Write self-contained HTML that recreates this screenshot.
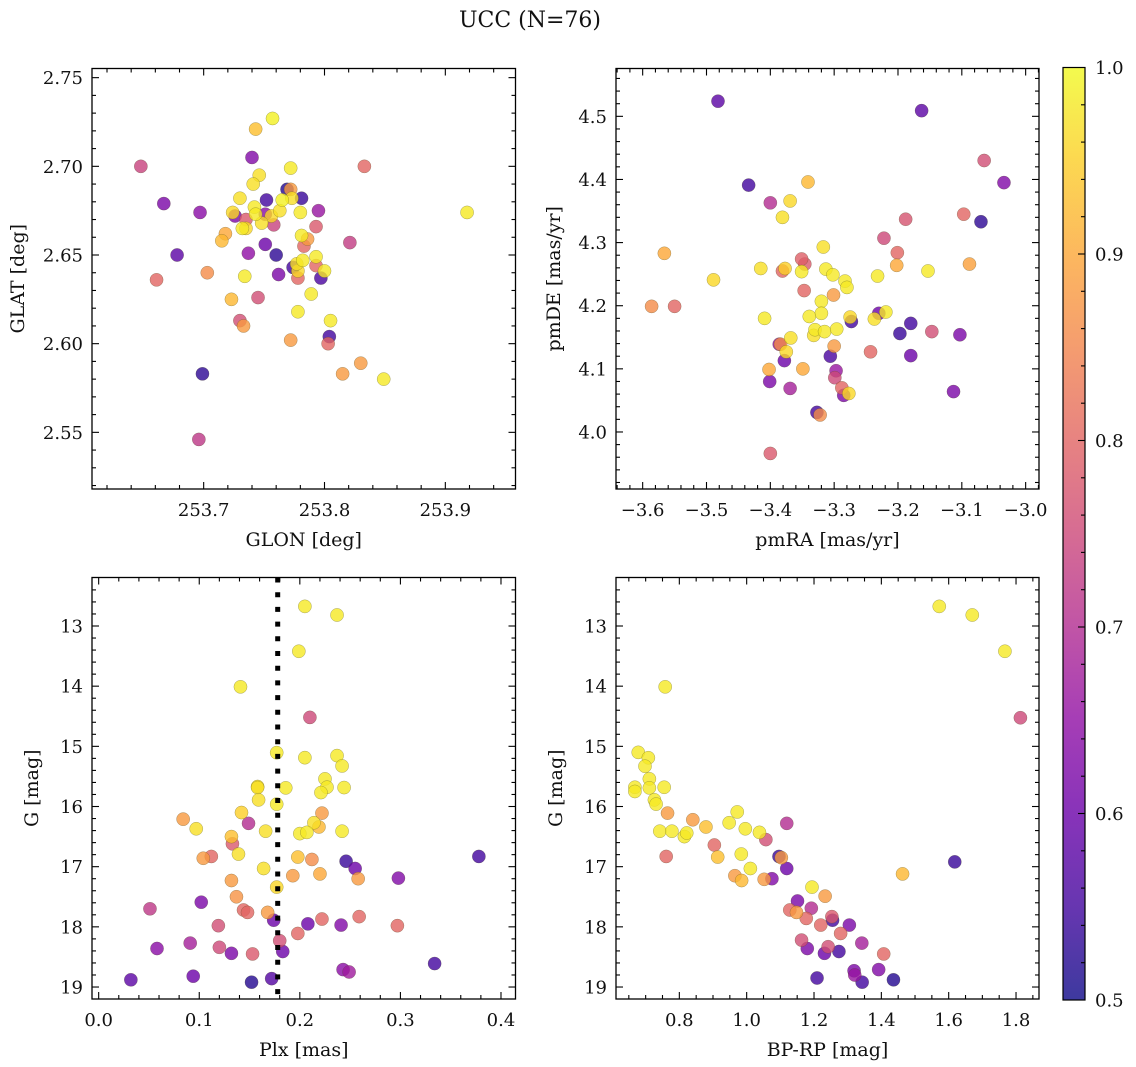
<!DOCTYPE html>
<html>
<head>
<meta charset="utf-8">
<style>
  html,body{margin:0;padding:0;background:#fff;}
  svg{display:block;}
  text{font-family:"DejaVu Serif","Liberation Serif",serif;fill:#111;}
</style>
</head>
<body>
<svg id="fig" width="1136" height="1067" viewBox="0 0 1136 1067" xmlns="http://www.w3.org/2000/svg">
  <defs>
    <linearGradient id="cbgrad" x1="0" y1="1" x2="0" y2="0">
      <stop offset="0" stop-color="#0d0887"/>
      <stop offset="0.1" stop-color="#41049d"/>
      <stop offset="0.2" stop-color="#6a00a8"/>
      <stop offset="0.3" stop-color="#8f0da4"/>
      <stop offset="0.4" stop-color="#b12a90"/>
      <stop offset="0.5" stop-color="#cc4778"/>
      <stop offset="0.6" stop-color="#e16462"/>
      <stop offset="0.7" stop-color="#f2844b"/>
      <stop offset="0.8" stop-color="#fca636"/>
      <stop offset="0.9" stop-color="#fcce25"/>
      <stop offset="1" stop-color="#f0f921"/>
    </linearGradient>
  </defs>
  <text x="530" y="27" text-anchor="middle" font-size="22">UCC (N=76)</text>
</svg>
<script>
// ---------- data ----------
const tlGlon = [253.648,253.667,253.697,253.678,253.661,253.703,253.743,253.757,253.740,253.772,
253.833,253.746,253.741,253.769,253.772,253.730,253.752,253.781,253.765,253.773,
253.742,253.724,253.726,253.735,253.743,253.756,253.763,253.751,253.758,253.748,
253.780,253.795,253.732,253.735,253.793,253.718,253.715,253.751,253.821,253.781,
253.786,253.783,253.737,253.760,253.793,253.782,253.793,253.774,253.777,253.778,
253.762,253.778,253.797,253.800,253.734,253.723,253.745,253.789,253.778,253.730,
253.733,253.805,253.772,253.804,253.803,253.699,253.815,253.830,253.849,253.918,
253.696];
const tlGlat = [2.700,2.679,2.674,2.650,2.636,2.640,2.721,2.727,2.705,2.699,
2.700,2.695,2.690,2.687,2.687,2.682,2.681,2.682,2.681,2.682,
2.677,2.674,2.672,2.670,2.673,2.672,2.675,2.673,2.667,2.668,
2.674,2.675,2.665,2.665,2.666,2.662,2.658,2.656,2.657,2.661,
2.659,2.655,2.651,2.650,2.649,2.647,2.644,2.643,2.645,2.641,
2.639,2.637,2.637,2.641,2.638,2.625,2.626,2.628,2.618,2.613,
2.610,2.613,2.602,2.604,2.600,2.583,2.583,2.589,2.580,2.674,
2.546];
const tlProb = [0.74,0.62,0.64,0.58,0.8,0.86,0.93,0.99,0.63,0.98,
0.8,0.97,0.97,0.52,0.88,0.97,0.55,0.54,0.99,0.97,
0.98,0.96,0.62,0.78,0.98,0.96,0.97,0.64,0.74,0.97,
0.98,0.66,0.98,0.96,0.78,0.9,0.92,0.6,0.73,0.98,
0.88,0.8,0.65,0.53,0.98,0.98,0.8,0.55,0.97,0.96,
0.62,0.8,0.56,0.98,0.98,0.92,0.76,0.98,0.98,0.76,
0.88,0.98,0.88,0.55,0.8,0.53,0.88,0.88,0.98,0.98,
0.72];

const trPmra = [-3.482,-3.163,-3.065,-3.034,-3.434,-3.341,-3.400,-3.369,-3.381,-3.188,
-3.097,-3.070,-3.222,-3.317,-3.566,-3.201,-3.351,-3.346,-3.202,-3.088,
-3.489,-3.415,-3.381,-3.377,-3.351,-3.313,-3.302,-3.283,-3.280,-3.232,
-3.153,-3.347,-3.301,-3.586,-3.550,-3.320,-3.320,-3.339,-3.409,-3.273,
-3.275,-3.230,-3.237,-3.219,-3.180,-3.197,-3.147,-3.103,-3.330,-3.315,
-3.296,-3.332,-3.368,-3.384,-3.386,-3.375,-3.300,-3.243,-3.378,-3.306,
-3.180,-3.402,-3.349,-3.401,-3.297,-3.299,-3.369,-3.288,-3.285,-3.277,
-3.113,-3.327,-3.322,-3.400];
const trPmde = [4.524,4.509,4.430,4.395,4.391,4.396,4.363,4.366,4.340,4.337,
4.345,4.333,4.307,4.293,4.283,4.284,4.274,4.266,4.264,4.266,
4.241,4.259,4.255,4.259,4.254,4.258,4.249,4.239,4.229,4.247,
4.255,4.224,4.217,4.199,4.199,4.207,4.188,4.183,4.180,4.175,
4.182,4.188,4.179,4.190,4.172,4.156,4.159,4.154,4.162,4.159,
4.163,4.153,4.149,4.139,4.139,4.127,4.136,4.127,4.113,4.120,
4.121,4.099,4.100,4.080,4.097,4.086,4.069,4.070,4.058,4.061,
4.064,4.031,4.027,3.966];
const trProb = [0.58,0.58,0.76,0.63,0.55,0.92,0.7,0.96,0.97,0.77,
0.8,0.53,0.75,0.97,0.9,0.8,0.79,0.78,0.9,0.89,
0.96,0.97,0.8,0.95,0.98,0.98,0.98,0.98,0.98,0.98,
0.98,0.8,0.88,0.86,0.8,0.98,0.98,0.98,0.98,0.55,
0.96,0.6,0.97,0.98,0.55,0.54,0.76,0.62,0.98,0.98,
0.98,0.97,0.97,0.86,0.65,0.96,0.88,0.8,0.6,0.56,
0.6,0.9,0.9,0.62,0.66,0.75,0.68,0.8,0.62,0.96,
0.62,0.55,0.86,0.78];

const blPlx = [0.205,0.237,0.199,0.141,0.210,0.177,0.205,0.237,0.242,0.225,
0.227,0.221,0.244,0.158,0.158,0.186,0.159,0.177,0.142,0.222,
0.149,0.084,0.097,0.166,0.214,0.219,0.200,0.207,0.242,0.132,
0.133,0.139,0.104,0.112,0.198,0.212,0.164,0.193,0.220,0.246,
0.255,0.258,0.298,0.378,0.132,0.177,0.137,0.102,0.051,0.144,
0.148,0.168,0.174,0.208,0.222,0.241,0.259,0.297,0.119,0.198,
0.180,0.183,0.058,0.091,0.120,0.132,0.153,0.334,0.243,0.249,
0.032,0.094,0.152,0.172];
const blG = [12.674,12.817,13.420,14.011,14.519,15.105,15.188,15.154,15.326,15.541,
15.679,15.768,15.685,15.668,15.685,15.690,15.89,15.961,16.10,16.11,
16.28,16.21,16.37,16.41,16.27,16.34,16.45,16.43,16.41,16.50,
16.62,16.79,16.86,16.83,16.84,16.88,17.03,17.15,17.12,16.91,
17.03,17.20,17.19,16.83,17.23,17.34,17.50,17.59,17.70,17.72,
17.76,17.76,17.89,17.95,17.87,17.97,17.83,17.98,17.98,18.11,
18.23,18.41,18.36,18.27,18.34,18.44,18.45,18.61,18.71,18.75,
18.88,18.82,18.92,18.86];
const blProb = [0.98,0.98,0.98,0.98,0.75,0.98,0.98,0.98,0.98,0.98,
0.98,0.98,0.98,0.97,0.97,0.98,0.97,0.98,0.95,0.88,
0.7,0.88,0.97,0.97,0.97,0.92,0.98,0.98,0.98,0.93,
0.78,0.97,0.88,0.8,0.93,0.86,0.97,0.88,0.9,0.54,
0.6,0.88,0.63,0.55,0.88,0.96,0.87,0.62,0.72,0.8,
0.8,0.88,0.6,0.6,0.8,0.63,0.8,0.8,0.76,0.8,
0.76,0.6,0.64,0.68,0.75,0.62,0.78,0.55,0.64,0.67,
0.58,0.6,0.52,0.57];
const plxMedian = [0.178];

const brBprp = [1.572,1.670,1.767,0.758,1.813,0.678,0.708,0.698,0.711,0.668,
0.668,0.711,0.755,0.726,0.731,0.765,0.840,0.742,0.778,0.815,
0.822,0.879,0.948,0.972,0.996,1.038,1.057,1.119,0.761,0.904,
0.914,0.984,1.011,1.096,1.103,1.119,0.965,0.985,1.052,1.075,
1.194,1.233,1.463,1.618,1.151,1.128,1.148,1.192,1.177,1.255,
1.253,1.220,1.305,1.279,1.163,1.180,1.231,1.242,1.274,1.342,
1.407,1.209,1.319,1.321,1.343,1.392,1.436];
const brG = [12.674,12.817,13.420,14.011,14.525,15.10,15.19,15.33,15.54,15.68,
15.75,15.69,15.68,15.89,15.96,16.11,16.22,16.41,16.41,16.50,
16.44,16.34,16.27,16.09,16.37,16.43,16.55,16.28,16.83,16.64,
16.84,16.79,17.03,16.83,16.85,17.03,17.15,17.23,17.21,17.20,
17.34,17.49,17.12,16.92,17.57,17.72,17.76,17.69,17.86,17.89,
17.83,17.97,17.97,18.11,18.22,18.36,18.44,18.33,18.41,18.27,
18.45,18.85,18.73,18.80,18.92,18.71,18.88];
const brProb = [0.98,0.98,0.98,0.98,0.75,0.98,0.98,0.98,0.98,0.98,
0.98,0.98,0.98,0.98,0.98,0.88,0.88,0.98,0.98,0.98,
0.98,0.93,0.98,0.98,0.98,0.98,0.76,0.7,0.8,0.8,
0.93,0.98,0.98,0.54,0.88,0.6,0.88,0.92,0.88,0.63,
0.98,0.88,0.92,0.54,0.62,0.8,0.88,0.7,0.8,0.55,
0.78,0.8,0.62,0.8,0.76,0.62,0.6,0.76,0.55,0.68,
0.8,0.55,0.62,0.66,0.55,0.63,0.52];

const cbTickValues = [0.5,0.6,0.7,0.8,0.9,1.0];

// ---------- helpers ----------
const NS = 'http://www.w3.org/2000/svg';
const svg = document.getElementById('fig');
function mk(tag, attrs, parent){
  const e = document.createElementNS(NS, tag);
  for (const k in attrs) e.setAttribute(k, attrs[k]);
  (parent || svg).appendChild(e);
  return e;
}
function lin(v0,p0,v1,p1){ const k=(p1-p0)/(v1-v0); return v => p0 + (v - v0)*k; }
function inv(v0,p0,v1,p1){ const k=(v1-v0)/(p1-p0); return p => v0 + (p - p0)*k; }

const PL = [[0,13,8,135],[0.1,65,4,157],[0.2,106,0,168],[0.3,143,13,164],[0.4,177,42,144],
  [0.5,204,71,120],[0.6,225,100,98],[0.7,242,132,75],[0.8,252,166,54],[0.9,252,206,37],[1,240,249,33]];
function plasma(t){
  t = Math.max(0, Math.min(1, t));
  for (let i=0;i<PL.length-1;i++){
    const a=PL[i], b=PL[i+1];
    if (t<=b[0]){
      const f=(t-a[0])/(b[0]-a[0]);
      return 'rgb('+[1,2,3].map(j=>Math.round(a[j]+(b[j]-a[j])*f)).join(',')+')';
    }
  }
  return 'rgb(240,249,33)';
}
function probColor(p){ return plasma((p-0.5)/0.5); }

function fmt(v, d){ return v.toFixed(d).replace('-', '\u2212'); }

function drawPanel(cfg){
  const g = mk('g', {});
  
  
  const [x0,y0,x1,y1] = cfg.box;
  const clipId = cfg.name + '-clip';
  const cp = mk('clipPath', {id: clipId}, g);
  mk('rect', {x:x0, y:y0, width:x1-x0, height:y1-y0}, cp);

  const pg = mk('g', {'clip-path':'url(#'+clipId+')'}, g);
  
  
  const n = Math.min(cfg.xs.length, cfg.ys.length, cfg.ps.length);
  const order = [];
  for (let i=0;i<n;i++) order.push(i);
  order.sort((a,b)=>cfg.ps[a]-cfg.ps[b]);
  for (const i of order){
    const c = mk('circle', {cx: cfg.sx(cfg.xs[i]).toFixed(2), cy: cfg.sy(cfg.ys[i]).toFixed(2), r: 6.6,
      fill: probColor(cfg.ps[i]), 'fill-opacity': 0.8, stroke: 'rgba(70,70,30,0.45)', 'stroke-width': 0.5}, pg);
    
    
  }
  if (cfg.extra) cfg.extra(pg);

  const fr = mk('rect', {x:x0, y:y0, width:x1-x0, height:y1-y0, fill:'none', stroke:'#000', 'stroke-width':1.3}, g);
  
  

  const tg = mk('g', {stroke:'#000', 'stroke-width':1.1}, g);
  const xi = inv(cfg.xr[0], cfg.sx(cfg.xr[0]), cfg.xr[1], cfg.sx(cfg.xr[1]));
  const yi = inv(cfg.yr[0], cfg.sy(cfg.yr[0]), cfg.yr[1], cfg.sy(cfg.yr[1]));
  {
    const va = xi(x0), vb = xi(x1);
    const lo = Math.min(va,vb), hi = Math.max(va,vb);
    const st = cfg.xMinor, ratio = Math.round(cfg.xMajor/cfg.xMinor);
    for (let k=Math.ceil(lo/st-1e-6); k<=Math.floor(hi/st+1e-6); k++){
      const v = k*st, px = cfg.sx(v);
      if (px < x0+0.5 || px > x1-0.5) continue;
      const major = (((k % ratio)+ratio)%ratio)===0;
      const L = major ? 7 : 4;
      mk('line', {x1:px, y1:y1, x2:px, y2:y1-L}, tg);
      mk('line', {x1:px, y1:y0, x2:px, y2:y0+L}, tg);
      if (major){
        const t = mk('text', {x:px, y:y1+27, 'text-anchor':'middle', 'font-size':18, stroke:'none'}, g);
        t.textContent = fmt(v, cfg.xDec);
        
        
      }
    }
  }
  {
    const va = yi(y0), vb = yi(y1);
    const lo = Math.min(va,vb), hi = Math.max(va,vb);
    const st = cfg.yMinor, ratio = Math.round(cfg.yMajor/cfg.yMinor);
    for (let k=Math.ceil(lo/st-1e-6); k<=Math.floor(hi/st+1e-6); k++){
      const v = k*st, py = cfg.sy(v);
      if (py < y0+0.5 || py > y1-0.5) continue;
      const major = (((k % ratio)+ratio)%ratio)===0;
      const L = major ? 7 : 4;
      mk('line', {x1:x0, y1:py, x2:x0+L, y2:py}, tg);
      mk('line', {x1:x1, y1:py, x2:x1-L, y2:py}, tg);
      if (major){
        const t = mk('text', {x:x0-9, y:py+6.5, 'text-anchor':'end', 'font-size':18, stroke:'none'}, g);
        t.textContent = fmt(v, cfg.yDec);
        
        
      }
    }
  }
  const xl = mk('text', {x:(x0+x1)/2, y:y1+57, 'text-anchor':'middle', 'font-size':19}, g);
  xl.textContent = cfg.xlabel;
  
  
  const ylx = cfg.ylabelX, yly = (y0+y1)/2;
  const yl = mk('text', {x:ylx, y:yly, 'text-anchor':'middle', 'font-size':19, transform:'rotate(-90 '+ylx+' '+yly+')'}, g);
  yl.textContent = cfg.ylabel;
  
  
}

const yG = lin(13, 626, 14, 686.17);
drawPanel({name:'glon-glat-panel', box:[92,68.5,515.5,489],
  xs:tlGlon, ys:tlGlat, ps:tlProb,
  sx:lin(253.7,203.67,253.8,324.5), sy:lin(2.70,166.33,2.65,255.0),
  xr:[253.7,253.8], yr:[2.70,2.65],
  xMajor:0.1, xMinor:0.02, yMajor:0.05, yMinor:0.01, xDec:1, yDec:2,
  xlabel:'GLON [deg]', ylabel:'GLAT [deg]', ylabelX:24});

drawPanel({name:'pm-panel', box:[616,68.5,1039,489],
  xs:trPmra, ys:trPmde, ps:trProb,
  sx:lin(-3.6,642.67,-3.5,706.5), sy:lin(4.5,116.33,4.4,179.46),
  xr:[-3.6,-3.5], yr:[4.5,4.4],
  xMajor:0.1, xMinor:0.02, yMajor:0.1, yMinor:0.02, xDec:1, yDec:1,
  xlabel:'pmRA [mas/yr]', ylabel:'pmDE [mas/yr]', ylabelX:560});

const sxPlx = lin(0, 98.67, 0.1, 199.25);
drawPanel({name:'plx-g-panel', box:[92,577.5,515.5,999],
  xs:blPlx, ys:blG, ps:blProb,
  sx:sxPlx, sy:yG,
  xr:[0,0.1], yr:[13,14],
  xMajor:0.1, xMinor:0.02, yMajor:1, yMinor:0.2, xDec:1, yDec:0,
  xlabel:'Plx [mas]', ylabel:'G [mag]', ylabelX:38,
  extra: function(pg){
    const px = sxPlx(plxMedian[0]);
    const l = mk('line', {x1:px, y1:577.5, x2:px, y2:999, stroke:'#000', 'stroke-width':5, 'stroke-dasharray':'5 9.7'}, pg);
    
    
  }});

drawPanel({name:'cmd-panel', box:[616,577.5,1039,999],
  xs:brBprp, ys:brG, ps:brProb,
  sx:lin(0.8,679.33,1.0,746.67), sy:yG,
  xr:[0.8,1.0], yr:[13,14],
  xMajor:0.2, xMinor:0.05, yMajor:1, yMinor:0.2, xDec:1, yDec:0,
  xlabel:'BP-RP [mag]', ylabel:'G [mag]', ylabelX:562});

(function(){
  const g = mk('g', {});
  
  
  const cx0=1063, cx1=1085, cy0=67.5, cy1=1000;
  const r = mk('rect', {x:cx0, y:cy0, width:cx1-cx0, height:cy1-cy0, fill:'url(#cbgrad)', 'fill-opacity':0.8}, g);
  
  
  mk('rect', {x:cx0, y:cy0, width:cx1-cx0, height:cy1-cy0, fill:'none', stroke:'#000', 'stroke-width':1.2}, g);
  const sc = lin(0.5, cy1, 1.0, cy0);
  for (let k=25; k<=50; k++){
    const v = k*0.02, py = sc(v);
    const major = (k % 5) === 0;
    if (py > cy0+0.5 && py < cy1-0.5) mk('line', {x1:cx1, y1:py, x2:cx1-(major?7:4), y2:py, stroke:'#000', 'stroke-width':1.1}, g);
  }
  for (const v of cbTickValues){
    const t = mk('text', {x:cx1+10, y:sc(v)+6.5, 'font-size':18}, g);
    t.textContent = v.toFixed(1);
    
    
  }
})();
</script>
</body>
</html>
